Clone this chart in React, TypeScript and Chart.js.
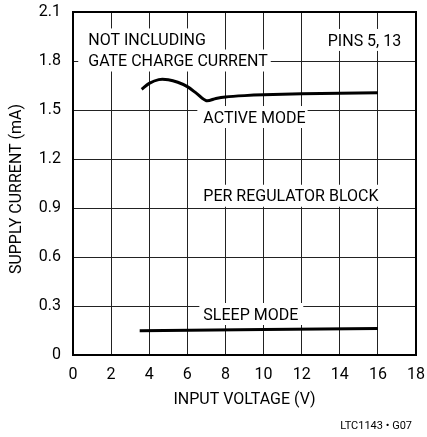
import React, { useEffect, useRef } from "react";
import { Chart, registerables } from "chart.js";

Chart.register(...registerables);

// ---- data ----
const activeVoltage = [3.6, 4.0, 4.5, 5.0, 5.5, 6.0, 6.5, 7.0, 7.5, 8.0, 9.0, 10.0, 12.0, 14.0, 16.0];
const activeCurrent = [1.627, 1.663, 1.686, 1.685, 1.67, 1.643, 1.6, 1.557, 1.571, 1.58, 1.588, 1.593, 1.599, 1.603, 1.606];

const sleepVoltage = [3.5, 10.0, 16.0];
const sleepCurrent = [0.149, 0.156, 0.163];

const xTicks = [0, 2, 4, 6, 8, 10, 12, 14, 16, 18];
const yTicks = [0, 0.3, 0.6, 0.9, 1.2, 1.5, 1.8, 2.1];

const xTitle = "INPUT VOLTAGE (V)";
const yTitle = "SUPPLY CURRENT (mA)";
const credit = "LTC1143 • G07";

// annotation labels (data coordinates of text left edge / vertical centre)
const labelTexts = ["NOT INCLUDING", "GATE CHARGE CURRENT", "PINS 5, 13", "ACTIVE MODE", "PER REGULATOR BLOCK", "SLEEP MODE"];
const labelX = [0.8, 0.8, 13.37, 6.84, 6.84, 6.84];
const labelY = [1.932, 1.803, 1.929, 1.457, 0.975, 0.251];
const labelPadL = [10, 10, 4, 6, 4, 4];
const labelPadR = [3, 3, 4, 2, 3, 5];

const FONT_FAMILY = "Roboto, 'Liberation Sans', sans-serif";
const FONT_SIZE = 16;
const CAP = 0.711;

const decorPlugin = {
  id: "decor",
  beforeDatasetsDraw(chart: any) {
    const { ctx, scales } = chart;
    const xs = scales.x;
    const ys = scales.y;
    ctx.save();
    ctx.font = `${FONT_SIZE}px ${FONT_FAMILY}`;
    ctx.textAlign = "left";
    ctx.textBaseline = "alphabetic";
    for (let i = 0; i < labelTexts.length; i++) {
      const t = labelTexts[i];
      const px = xs.getPixelForValue(labelX[i]);
      const py = ys.getPixelForValue(labelY[i]);
      const w = ctx.measureText(t).width;
      ctx.fillStyle = "#fff";
      ctx.fillRect(px - labelPadL[i], py - 11, w + labelPadL[i] + labelPadR[i], 22);
      ctx.fillStyle = "#000";
      ctx.fillText(t, px, py + (FONT_SIZE * CAP) / 2);
    }
    ctx.restore();
  },
  afterDatasetsDraw(chart: any) {
    const { ctx, chartArea } = chart;
    ctx.save();
    ctx.strokeStyle = "#000";
    ctx.lineWidth = 2;
    ctx.strokeRect(chartArea.left, chartArea.top, chartArea.right - chartArea.left, chartArea.bottom - chartArea.top);
    // y axis title
    ctx.fillStyle = "#000";
    ctx.font = `${FONT_SIZE}px ${FONT_FAMILY}`;
    ctx.textAlign = "center";
    ctx.textBaseline = "alphabetic";
    ctx.translate(15.5 + (FONT_SIZE * CAP) / 2, 189);
    ctx.rotate(-Math.PI / 2);
    ctx.fillText(yTitle, 0, 0);
    ctx.restore();
    // credit
    ctx.save();
    ctx.fillStyle = "#000";
    ctx.font = `11px ${FONT_FAMILY}`;
    ctx.textAlign = "right";
    ctx.textBaseline = "alphabetic";
    ctx.fillText(credit, 412, 425 + (11 * CAP) / 2);
    ctx.restore();
  },
};

export default function App() {
  const ref = useRef<HTMLCanvasElement | null>(null);

  useEffect(() => {
    if (!ref.current) return;
    const font = { family: FONT_FAMILY, size: FONT_SIZE };
    const chart = new Chart(ref.current, {
      type: "line",
      data: {
        datasets: [
          {
            data: activeVoltage.map((v, i) => ({ x: v, y: activeCurrent[i] })),
            borderColor: "#000",
            borderWidth: 3,
            pointRadius: 0,
            tension: 0.3,
            fill: false,
          },
          {
            data: sleepVoltage.map((v, i) => ({ x: v, y: sleepCurrent[i] })),
            borderColor: "#000",
            borderWidth: 3,
            pointRadius: 0,
            tension: 0,
            fill: false,
          },
        ],
      },
      options: {
        animation: false,
        responsive: false,
        maintainAspectRatio: false,
        layout: { padding: { top: 12, right: 11, left: 0, bottom: 0 } },
        plugins: { legend: { display: false }, tooltip: { enabled: false } },
        scales: {
          x: {
            type: "linear",
            min: 0,
            max: 18,
            afterBuildTicks: (s: any) => {
              s.ticks = xTicks.map((v) => ({ value: v }));
            },
            afterFit: (s: any) => {
              s.height = 82;
              s.paddingLeft = 0;
              s.paddingRight = 0;
            },
            grid: { color: "#222", lineWidth: 1, drawTicks: false },
            border: { display: false },
            ticks: { color: "#000", font, padding: 10, maxRotation: 0, callback: (v: any) => String(v) },
            title: { display: true, text: xTitle, color: "#000", font, padding: { top: 0, bottom: 27 } },
          },
          y: {
            type: "linear",
            min: 0,
            max: 2.1,
            afterBuildTicks: (s: any) => {
              s.ticks = yTicks.map((v) => ({ value: v }));
            },
            afterFit: (s: any) => {
              s.width = 73;
              s.paddingTop = 0;
              s.paddingBottom = 0;
            },
            grid: { color: "#222", lineWidth: 1, drawTicks: false },
            border: { display: false },
            ticks: {
              color: "#000",
              font,
              padding: 12,
              callback: (v: any) => (Number(v) === 0 ? "0" : Number(v).toFixed(1)),
            },
          },
        },
      },
      plugins: [decorPlugin],
    });
    return () => chart.destroy();
  }, []);

  return (
    <div style={{ position: "absolute", left: 0, top: 0, width: 427, height: 437, background: "#fff" }}>
      <canvas ref={ref} width={427} height={437} style={{ display: "block", width: 427, height: 437 }} />
    </div>
  );
}
